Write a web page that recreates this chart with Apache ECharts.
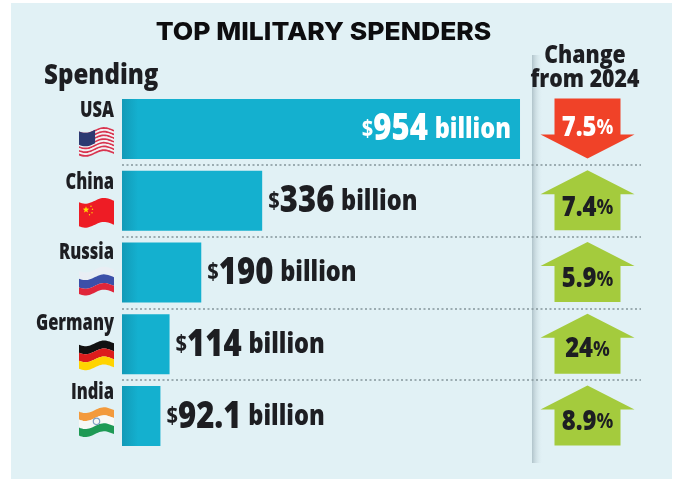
<!DOCTYPE html>
<html><head><meta charset="utf-8">
<style>html,body{margin:0;padding:0;background:#fff}#c{width:675px;height:479px}</style>
<script src="https://cdn.jsdelivr.net/npm/echarts@6/dist/echarts.min.js"></script>
</head><body><div id="c"></div>
<script>
const countries = ['USA','China','Russia','Germany','India'];
const spending = [954,336,190,114,92.1];
const change = [-7.5,7.4,5.9,24,8.9];
const changeLabels = ['7.5','7.4','5.9','24','8.9'];
const titleText = 'TOP MILITARY SPENDERS';
const leftHeading = 'Spending';
const rightHeading = ['Change','from 2024'];

const FONT = '"Open Sans","Noto Sans",sans-serif';
const DARK = '#1d1e22';
const flagDy = [12, 11, 9, 10, 5];
const nameDy = [-18, -18, -20, -21, -23];
const changeDy = [-1, 7, 7, 5, 6];

function wave(t){ return -2.5*Math.cos(2*Math.PI*(t-0.7)) + 1 - 1.5*(t-0.5); }
function band(x,y0,w,a,b,color){
  const pts=[],n=24;
  for(let i=0;i<=n;i++){const t=i/n;pts.push([x+t*w,y0+a+wave(t)]);}
  for(let i=n;i>=0;i--){const t=i/n;pts.push([x+t*w,y0+b+wave(t)]);}
  return {type:'polygon',shape:{points:pts},style:{fill:color},silent:true};
}
function starPts(cx,cy,r){
  const p=[];for(let i=0;i<10;i++){const a=-Math.PI/2+i*Math.PI/5,q=i%2?r*0.42:r;p.push([cx+q*Math.cos(a),cy+q*Math.sin(a)]);}
  return p;
}
function flagChildren(i,x,cy){
  const w=35,h=i===2?20:24,y=cy-h/2,ch=[];
  if(i===0){
    for(let s=0;s<13;s++) ch.push(band(x,y,w,s*h/13,(s+1)*h/13,s%2?'#f4f0f2':'#d9344f'));
    const pts=[],n=10,cw=0.46,chh=h*0.56;
    for(let k=0;k<=n;k++){const t=k/n*cw;pts.push([x+t*w,y+wave(t)]);}
    for(let k=n;k>=0;k--){const t=k/n*cw;pts.push([x+t*w,y+chh+wave(t)]);}
    ch.push({type:'polygon',shape:{points:pts},style:{fill:'#2c3a72'},silent:true});
  } else if(i===1){
    ch.push(band(x,y,w,0,h,'#ee1c25'));
    ch.push({type:'polygon',shape:{points:starPts(x+7,y+10,3.4)},style:{fill:'#ffde00'},silent:true});
    [[12,6.5],[13.5,9.5],[13,13],[10.5,15]].forEach(d=>ch.push({type:'circle',shape:{cx:x+d[0],cy:y+d[1],r:.7},style:{fill:'#ffde00'},silent:true}));
  } else if(i===2){
    ch.push(band(x,y,w,-3,h/3,'#e9eef4'));
    ch.push(band(x,y,w,h/3-2,2*h/3,'#3b4fa8'));
    ch.push(band(x,y,w,2*h/3,h,'#e0263a'));
  } else if(i===3){
    ch.push(band(x,y,w,0,h/3,'#111'));
    ch.push(band(x,y,w,h/3,2*h/3,'#dd1c1c'));
    ch.push(band(x,y,w,2*h/3,h,'#ffd400'));
  } else {
    ch.push(band(x,y,w,0,h/3,'#f39a3c'));
    ch.push(band(x,y,w,h/3,2*h/3,'#f7f8f6'));
    ch.push(band(x,y,w,2*h/3,h,'#1f9a55'));
    ch.push({type:'circle',shape:{cx:x+w/2,cy:y+h/2+wave(.5),r:3.2},style:{fill:'none',stroke:'#7f9fc4',lineWidth:1.2},silent:true});
  }
  return ch;
}
function label(text,x,y,size,sx,align,weight,color,family){
  return {type:'text',x:x,y:y,scaleX:sx,z:5,silent:true,style:{text:text,x:0,y:0,align:align,verticalAlign:'middle',
    fontFamily:family||FONT,fontWeight:weight||700,fontSize:size,fill:color||DARK}};
}

const chart = echarts.init(document.getElementById('c'),null,{renderer:'canvas'});
chart.setOption({
  animation:false,
  backgroundColor:'#ffffff',
  graphic:[
    {type:'rect',z:-10,shape:{x:11,y:3,width:661,height:476},style:{fill:'#e1f1f5'}},
    {type:'rect',z:-9,shape:{x:532,y:55,width:11,height:408},style:{fill:new echarts.graphic.LinearGradient(0,0,1,0,[
      {offset:0,color:'rgba(160,180,188,0.75)'},{offset:.3,color:'rgba(180,198,205,0.5)'},{offset:1,color:'rgba(225,241,245,0)'}])}},
    label(titleText,323.5,32,25,1.06,'center',800,'#0d0d0f','Inter,"Liberation Sans",sans-serif'),
    label(leftHeading,44,76,28,.86,'left',800),
    label(rightHeading[0],585,56,25,.85,'center',800),
    label(rightHeading[1],585,80,25,.85,'center',800)
  ],
  grid:[
    {left:122,top:93,width:519,height:359},
    {left:540.5,top:93,width:94,height:359}
  ],
  xAxis:[
    {gridIndex:0,type:'value',min:0,max:1244,show:false},
    {gridIndex:1,type:'value',min:-1,max:1,show:false}
  ],
  yAxis:[
    {gridIndex:0,type:'category',inverse:true,data:countries,
      axisLine:{show:false},axisTick:{show:false},axisLabel:{show:false},
      splitLine:{show:true,showMinLine:false,showMaxLine:false,lineStyle:{color:'#84959a',width:1.5,type:[2,2.5]}}},
    {gridIndex:1,type:'category',inverse:true,data:countries,show:false}
  ],
  series:[
    {type:'bar',xAxisIndex:0,yAxisIndex:0,barWidth:60,z:3,
      itemStyle:{color:new echarts.graphic.LinearGradient(122,0,138,0,[{offset:0,color:'#129ab7'},{offset:1,color:'#14b0cf'}],true)},
      data:spending},
    {type:'custom',xAxisIndex:0,yAxisIndex:0,z:4,
      encode:{x:0,y:1},
      data:spending.map((v,i)=>[v,countries[i],i]),
      renderItem(params,api){
        const p=api.coord([api.value(0),api.value(1)]),i=api.value(2),inside=i===0;
        const c=inside?'#ffffff':DARK;
        return {type:'text',x:inside?p[0]-9:p[0]+6,y:p[1]+1,scaleX:.84,silent:true,
          style:{x:0,y:0,align:inside?'right':'left',verticalAlign:'middle',
            text:'{s|$}{n|'+api.value(0)+'}{u|billion}',
            rich:{
              s:{fontFamily:FONT,fontWeight:700,fontSize:24,fill:c},
              n:{fontFamily:FONT,fontWeight:800,fontSize:37,fill:c},
              u:{fontFamily:FONT,fontWeight:800,fontSize:28,fill:c,padding:[0,0,0,8]}
            }}};
      }},
    {type:'custom',xAxisIndex:1,yAxisIndex:1,z:4,
      encode:{x:0,y:1},
      data:change.map((v,i)=>[0,countries[i],v,changeLabels[i],i]),
      renderItem(params,api){
        const c=api.coord([0,api.value(1)]),v=api.value(2);
        const h=60,hw=47,sw=33,up=v>=0,x=c[0],y=c[1]-0.5;
        const s=up?1:-1,tip=y-s*h/2,base=y+s*h/2,neck=tip+s*24;
        const col=up?'#a4cb3d':'#f04228',tc=up?DARK:'#ffffff';
        return {type:'group',children:[
          {type:'polygon',shape:{points:[[x,tip],[x+hw,neck],[x+sw,neck],[x+sw,base],[x-sw,base],[x-sw,neck],[x-hw,neck]]},style:{fill:col}},
          {type:'text',x:x,y:c[1]+changeDy[api.value(4)],scaleX:.85,style:{x:0,y:0,align:'center',verticalAlign:'middle',
            text:'{n|'+api.value(3)+'}{p|%}',
            rich:{n:{fontFamily:FONT,fontWeight:800,fontSize:28,fill:tc},
                  p:{fontFamily:FONT,fontWeight:700,fontSize:22,fill:tc}}}}
        ]};
      }},
    {type:'custom',xAxisIndex:0,yAxisIndex:0,z:4,
      encode:{x:0,y:1},
      data:countries.map((c,i)=>[0,c,i]),
      renderItem(params,api){
        const p=api.coord([0,api.value(1)]),i=api.value(2);
        return {type:'group',children:flagChildren(i,p[0]-43,p[1]+flagDy[i]).concat([
          label(countries[i],p[0]-8,p[1]+nameDy[i],22,.75,'right',800)
        ])};
      }}
  ]
});
</script></body></html>
